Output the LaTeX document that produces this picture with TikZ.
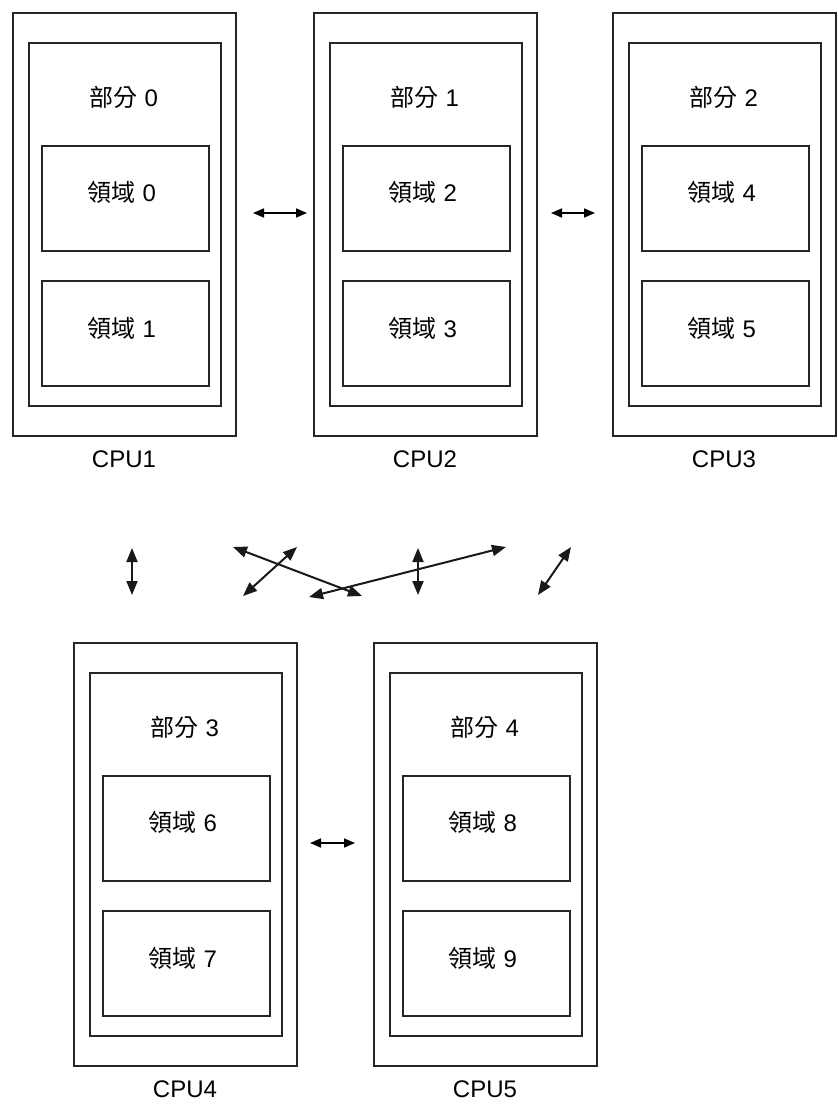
\documentclass[tikz,border=0pt]{standalone}
\usepackage{fontspec}
\setmainfont{Liberation Sans}
\newfontfamily\cjk{Noto Sans CJK TC}
\usetikzlibrary{arrows.meta}

\tikzset{
  framebox/.style={draw=black!85, line width=1.8pt, anchor=north west, inner sep=0pt},
  outerbox/.style={framebox, minimum width=223pt, minimum height=423pt},
  partbox/.style={framebox, minimum width=192pt, minimum height=363pt},
  regionbox/.style={framebox, minimum width=167pt, minimum height=105pt},
  txt/.style={font=\fontsize{24}{28}\selectfont, text=black, inner sep=0pt},
  link/.style={draw=black, line width=1.6pt, {Triangle[length=11pt,width=9pt]}-{Triangle[length=11pt,width=9pt]}},
  xlink/.style={draw=black!90, line width=2pt, {Triangle[length=14pt,width=11pt]}-{Triangle[length=14pt,width=11pt]}}
}

% one CPU: #1 name, #2/#3 top-left, #4 partition, #5/#6 regions, #7 CPU label
\newcommand{\cpuunit}[7]{%
  \node[outerbox] (#1) at (#2,#3) {};
  \node[partbox] (#1-part) at ({#2+16},{#3+30}) {};
  \node[regionbox] (#1-ra) at ({#2+29},{#3+133}) {};
  \node[regionbox] (#1-rb) at ({#2+29},{#3+268}) {};
  \node[txt] (#1-title) at ({#2+112},{#3+85}) {{\cjk 部分} #4};
  \node[txt] (#1-ratext) at ({#2+110},{#3+180}) {{\cjk 領域} #5};
  \node[txt] (#1-rbtext) at ({#2+110},{#3+316}) {{\cjk 領域} #6};
  \node[txt] (#1-label) at ({#2+112},{#3+447}) {#7};
}

\begin{document}
\begin{tikzpicture}[x=1pt,y=-1pt]
\useasboundingbox (0,0) rectangle (838,1109);

\cpuunit{cpu1}{12}{12}{0}{0}{1}{CPU1}
\cpuunit{cpu2}{313}{12}{1}{2}{3}{CPU2}
\cpuunit{cpu3}{612}{12}{2}{4}{5}{CPU3}
\cpuunit{cpu4}{73}{642}{3}{6}{7}{CPU4}
\cpuunit{cpu5}{373}{642}{4}{8}{9}{CPU5}

% links between neighbouring CPUs
\coordinate (h1a) at (253,213);
\coordinate (h1b) at (307,213);
\coordinate (h2a) at (551,213);
\coordinate (h2b) at (595,213);
\coordinate (h3a) at (310,843);
\coordinate (h3b) at (355,843);
\draw[link] (h1a) -- (h1b);
\draw[link] (h2a) -- (h2b);
\draw[link] (h3a) -- (h3b);

% links between the upper and lower rows
\coordinate (v1a) at (132,548);
\coordinate (v1b) at (132,595);
\coordinate (d1a) at (233,547);
\coordinate (d1b) at (362,596);
\coordinate (d2a) at (243,596);
\coordinate (d2b) at (297,547);
\coordinate (d3a) at (309,597);
\coordinate (d3b) at (506,547);
\coordinate (v2a) at (418,548);
\coordinate (v2b) at (418,595);
\coordinate (d4a) at (538,595);
\coordinate (d4b) at (571,547);
\draw[xlink] (v1a) -- (v1b);
\draw[xlink] (d1a) -- (d1b);
\draw[xlink] (d2a) -- (d2b);
\draw[xlink] (d3a) -- (d3b);
\draw[xlink] (v2a) -- (v2b);
\draw[xlink] (d4a) -- (d4b);
\end{tikzpicture}
\end{document}
